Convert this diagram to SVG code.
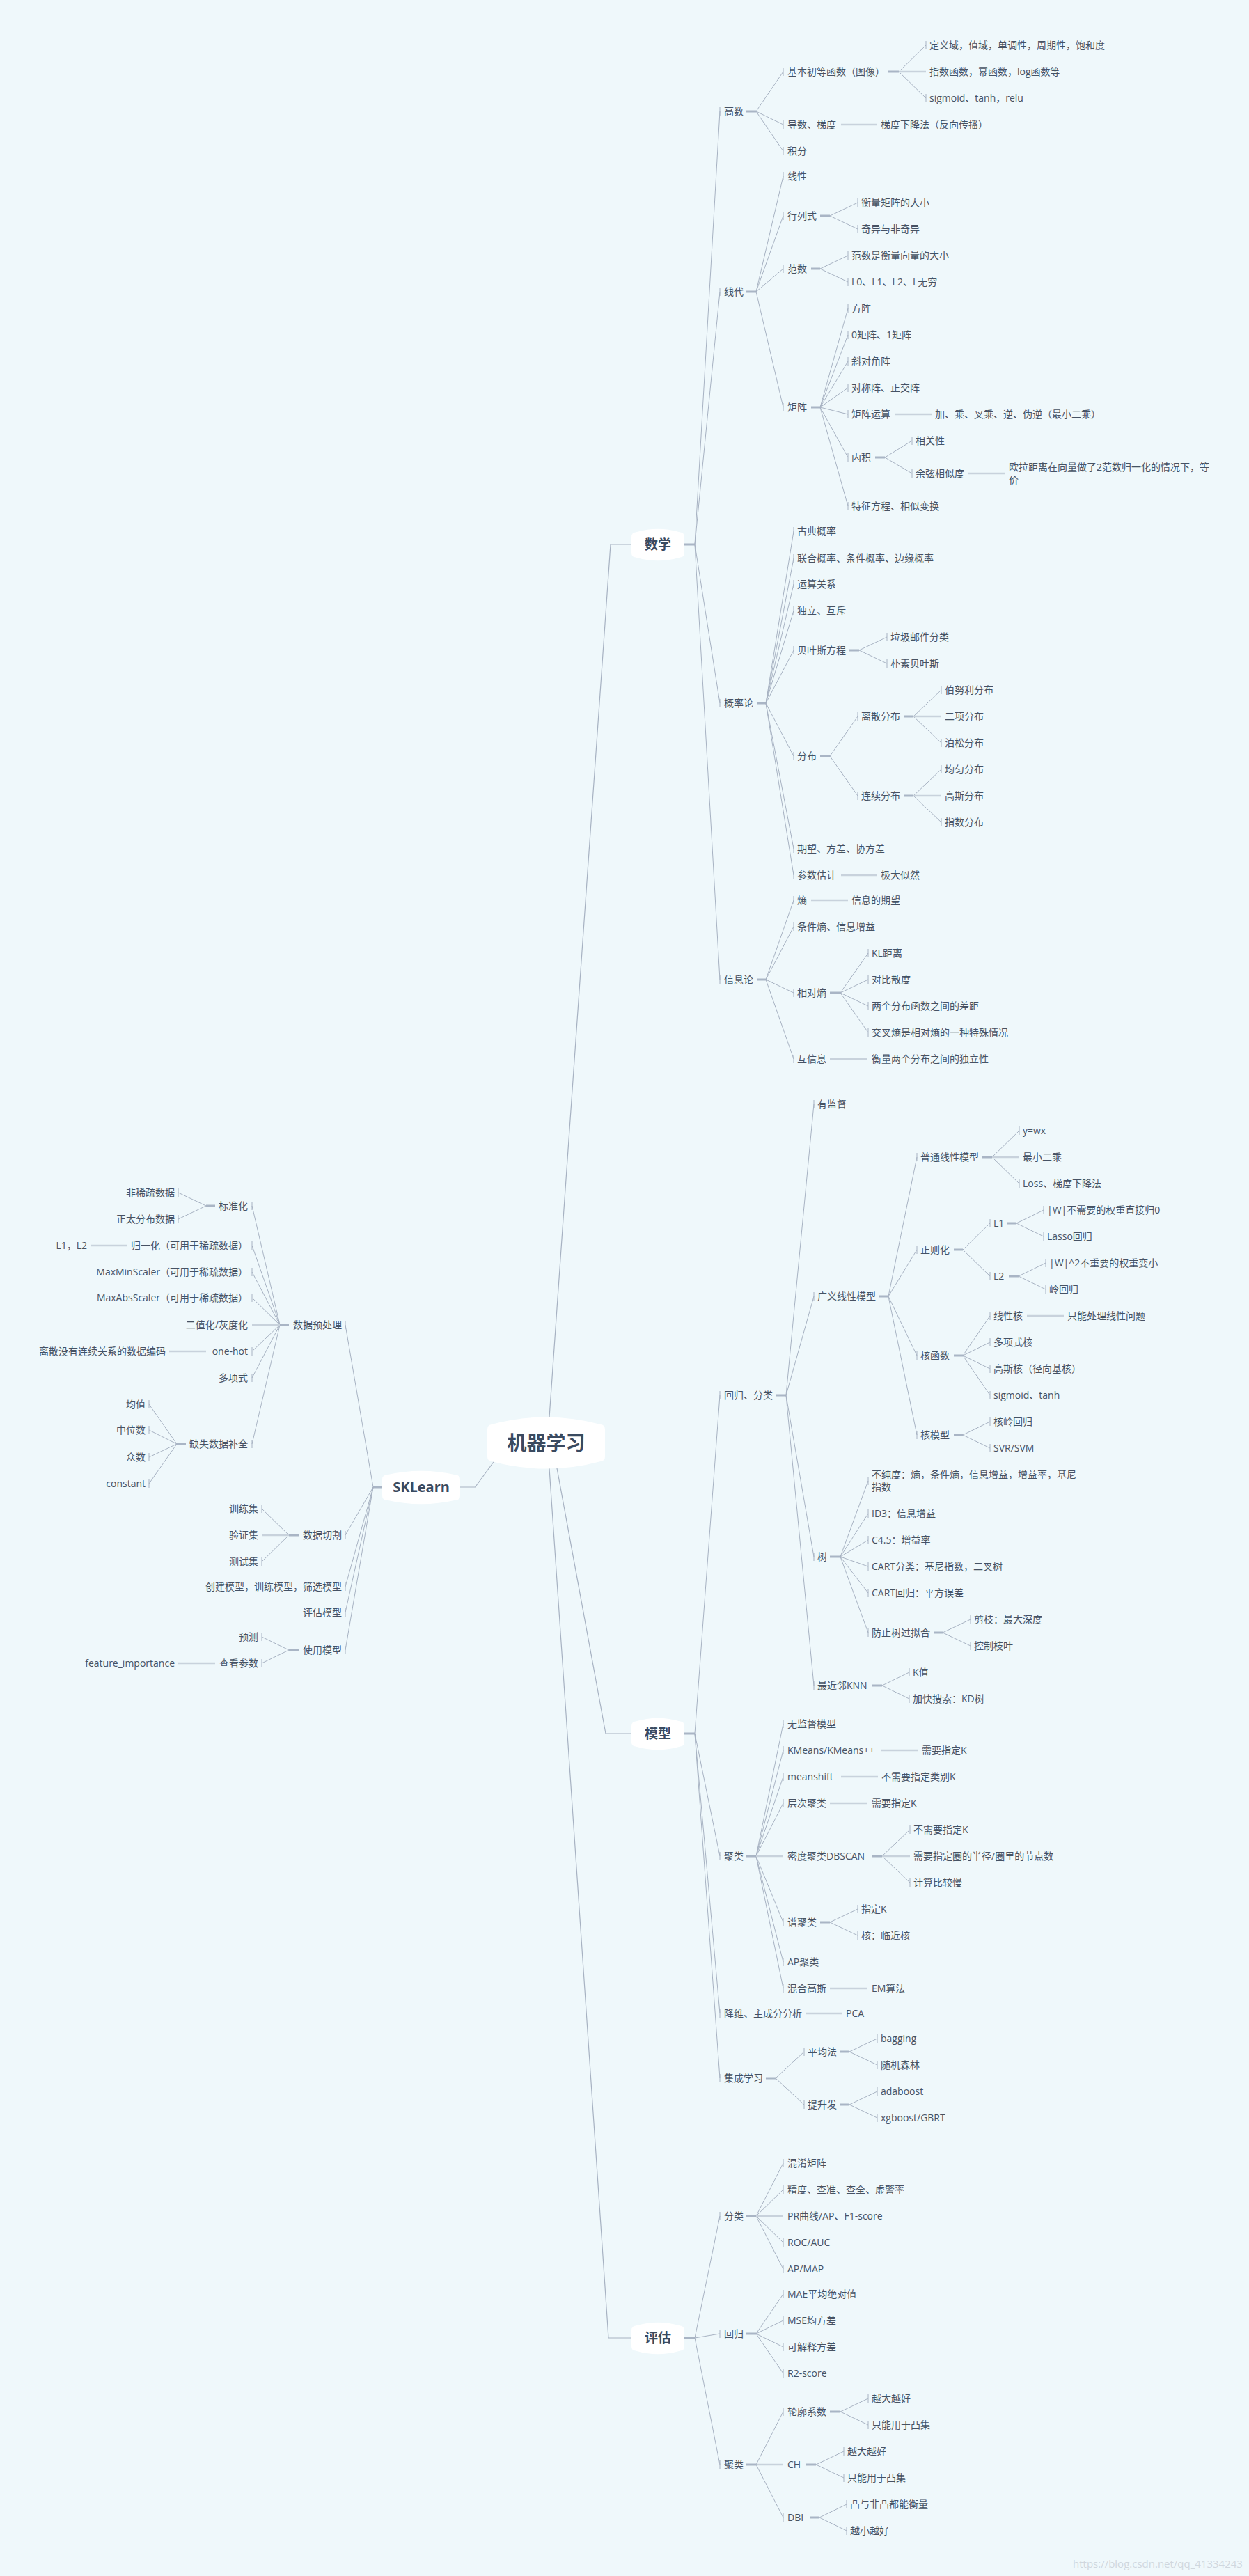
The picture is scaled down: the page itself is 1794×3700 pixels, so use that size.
<svg xmlns="http://www.w3.org/2000/svg" width="1794" height="3700" viewBox="0 0 1794 3700">
<style>
text{font-family:"Open Sans","Noto Sans CJK SC",sans-serif;font-size:14px;fill:#465264}
.e{text-anchor:end}
.b{font-weight:700;fill:#3a4a60;text-anchor:middle}
.box{fill:#ffffff}
.c{fill:none;stroke:#a7b2c2;stroke-width:1}
.h{fill:none;stroke:#c8d2dc;stroke-width:2.5}
.s{fill:none;stroke:#a9b5c5;stroke-width:3}
.m{fill:none;stroke:#a7b2c2;stroke-width:1.2}
.wm{fill:#cfd7de;font-size:15px}
</style>
<rect width="1794" height="3700" fill="#eff8fb"/>
<g id="connectors">
<path class="m" d="M789 2036 L877 782 H907"/>
<path class="m" d="M800 2109 L870 2490 H907"/>
<path class="m" d="M789 2109 L874 3358 H907"/>
<path class="m" d="M709.6 2099 L682.5 2136 H661"/>
<!-- math -->
<path class="s" d="M983 782 H998"/>
<path class="c" d="M998 782 L1034 160 m0 -6 v12 M998 782 L1034 419 m0 -6 v12 M998 782 L1034 1010 m0 -6 v12 M998 782 L1034 1407 m0 -6 v12"/>
<path class="s" d="M1072 160 H1086"/>
<path class="c" d="M1086 160 L1125 103 m0 -6 v12 M1086 160 L1125 179 m0 -6 v12 M1086 160 L1125 217 m0 -6 v12"/>
<path class="s" d="M1276 103 H1291"/>
<path class="c" d="M1291 103 L1330 65 m0 -6 v12 M1291 103 L1330 141 m0 -6 v12"/>
<path class="h" d="M1291 103 H1330 M1208 179 H1259"/>
<path class="s" d="M1072 419 H1086"/>
<path class="c" d="M1086 419 L1125 253 m0 -6 v12 M1086 419 L1125 310 m0 -6 v12 M1086 419 L1125 386 m0 -6 v12 M1086 419 L1125 585 m0 -6 v12"/>
<path class="s" d="M1178 310 H1192 M1165 386 H1178 M1165 585 H1178 M1257 657 H1271"/>
<path class="c" d="M1192 310 L1232 291 m0 -6 v12 M1192 310 L1232 329 m0 -6 v12 M1178 386 L1218 367 m0 -6 v12 M1178 386 L1218 405 m0 -6 v12"/>
<path class="c" d="M1178 585 L1218 443 m0 -6 v12 M1178 585 L1218 481 m0 -6 v12 M1178 585 L1218 519 m0 -6 v12 M1178 585 L1218 557 m0 -6 v12 M1178 585 L1218 595 m0 -6 v12 M1178 585 L1218 657 m0 -6 v12 M1178 585 L1218 727 m0 -6 v12"/>
<path class="h" d="M1285 595 H1338 M1391 680 H1444"/>
<path class="c" d="M1271 657 L1310 633 m0 -6 v12 M1271 657 L1310 680 m0 -6 v12"/>
<path class="s" d="M1087 1010 H1100"/>
<path class="c" d="M1100 1010 L1140 763 m0 -6 v12 M1100 1010 L1140 802 m0 -6 v12 M1100 1010 L1140 839 m0 -6 v12 M1100 1010 L1140 877 m0 -6 v12 M1100 1010 L1140 934 m0 -6 v12 M1100 1010 L1140 1086 m0 -6 v12 M1100 1010 L1140 1219 m0 -6 v12 M1100 1010 L1140 1257 m0 -6 v12"/>
<path class="s" d="M1220 934 H1234 M1178 1086 H1192 M1299 1029 H1312 M1299 1143 H1312"/>
<path class="c" d="M1234 934 L1274 915 m0 -6 v12 M1234 934 L1274 953 m0 -6 v12 M1192 1086 L1232 1029 m0 -6 v12 M1192 1086 L1232 1143 m0 -6 v12"/>
<path class="c" d="M1312 1029 L1352 991 m0 -6 v12 M1312 1029 L1352 1067 m0 -6 v12 M1312 1143 L1352 1105 m0 -6 v12 M1312 1143 L1352 1181 m0 -6 v12"/>
<path class="h" d="M1312 1029 H1352 M1312 1143 H1352 M1208 1257 H1259"/>
<path class="s" d="M1087 1407 H1100 M1192 1426 H1207"/>
<path class="c" d="M1100 1407 L1140 1293 m0 -6 v12 M1100 1407 L1140 1331 m0 -6 v12 M1100 1407 L1140 1426 m0 -6 v12 M1100 1407 L1140 1521 m0 -6 v12"/>
<path class="c" d="M1207 1426 L1247 1369 m0 -6 v12 M1207 1426 L1247 1407 m0 -6 v12 M1207 1426 L1247 1445 m0 -6 v12 M1207 1426 L1247 1483 m0 -6 v12"/>
<path class="h" d="M1165 1293 H1218 M1192 1521 H1246"/>
<!-- model -->
<path class="s" d="M983 2490 H998"/>
<path class="c" d="M998 2490 L1034 2004 m0 -6 v12 M998 2490 L1034 2666 m0 -6 v12 M998 2490 L1034 2892 m0 -6 v12 M998 2490 L1034 2985 m0 -6 v12"/>
<path class="s" d="M1115 2004 H1129"/>
<path class="c" d="M1129 2004 L1169 1586 m0 -6 v12 M1129 2004 L1169 1862 m0 -6 v12 M1129 2004 L1169 2236 m0 -6 v12 M1129 2004 L1169 2421 m0 -6 v12"/>
<path class="s" d="M1262 1862 H1276"/>
<path class="c" d="M1276 1862 L1317 1662 m0 -6 v12 M1276 1862 L1317 1795 m0 -6 v12 M1276 1862 L1317 1947 m0 -6 v12 M1276 1862 L1317 2061 m0 -6 v12"/>
<path class="s" d="M1411 1662 H1425 M1370 1795 H1383 M1446 1757 H1460 M1449 1833 H1463 M1370 1947 H1383 M1370 2061 H1383"/>
<path class="c" d="M1425 1662 L1464 1624 m0 -6 v12 M1425 1662 L1464 1700 m0 -6 v12"/>
<path class="h" d="M1425 1662 H1464 M1475 1890 H1528"/>
<path class="c" d="M1383 1795 L1422 1757 m0 -6 v12 M1383 1795 L1422 1833 m0 -6 v12 M1460 1757 L1499 1738 m0 -6 v12 M1460 1757 L1499 1776 m0 -6 v12 M1463 1833 L1502 1814 m0 -6 v12 M1463 1833 L1502 1852 m0 -6 v12"/>
<path class="c" d="M1383 1947 L1422 1890 m0 -6 v12 M1383 1947 L1422 1928 m0 -6 v12 M1383 1947 L1422 1966 m0 -6 v12 M1383 1947 L1422 2004 m0 -6 v12 M1383 2061 L1422 2042 m0 -6 v12 M1383 2061 L1422 2080 m0 -6 v12"/>
<path class="s" d="M1192 2236 H1207 M1341 2345 H1354 M1253 2421 H1267"/>
<path class="c" d="M1207 2236 L1247 2127 m0 -6 v12 M1207 2236 L1247 2174 m0 -6 v12 M1207 2236 L1247 2212 m0 -6 v12 M1207 2236 L1247 2250 m0 -6 v12 M1207 2236 L1247 2288 m0 -6 v12 M1207 2236 L1247 2345 m0 -6 v12"/>
<path class="c" d="M1354 2345 L1394 2326 m0 -6 v12 M1354 2345 L1394 2364 m0 -6 v12 M1267 2421 L1306 2402 m0 -6 v12 M1267 2421 L1306 2440 m0 -6 v12"/>
<path class="s" d="M1072 2666 H1086"/>
<path class="c" d="M1086 2666 L1125 2476 m0 -6 v12 M1086 2666 L1125 2514 m0 -6 v12 M1086 2666 L1125 2552 m0 -6 v12 M1086 2666 L1125 2590 m0 -6 v12 M1086 2666 L1125 2761 m0 -6 v12 M1086 2666 L1125 2818 m0 -6 v12 M1086 2666 L1125 2856 m0 -6 v12"/>
<path class="h" d="M1086 2666 H1125 M1266 2514 H1319 M1208 2552 H1261 M1192 2590 H1246 M1192 2856 H1246 M1157 2892 H1209"/>
<path class="s" d="M1253 2666 H1267 M1178 2761 H1192"/>
<path class="c" d="M1267 2666 L1307 2628 m0 -6 v12 M1267 2666 L1307 2704 m0 -6 v12 M1192 2761 L1232 2742 m0 -6 v12 M1192 2761 L1232 2780 m0 -6 v12"/>
<path class="h" d="M1267 2666 H1307"/>
<path class="s" d="M1100 2985 H1114 M1207 2947 H1220 M1207 3023 H1220"/>
<path class="c" d="M1114 2985 L1155 2947 m0 -6 v12 M1114 2985 L1155 3023 m0 -6 v12 M1220 2947 L1260 2928 m0 -6 v12 M1220 2947 L1260 2966 m0 -6 v12 M1220 3023 L1260 3004 m0 -6 v12 M1220 3023 L1260 3042 m0 -6 v12"/>
<!-- evaluation -->
<path class="s" d="M983 3358 H998"/>
<path class="c" d="M998 3358 L1034 3183 m0 -6 v12 M998 3358 L1034 3352 m0 -6 v12 M998 3358 L1034 3540 m0 -6 v12"/>
<path class="s" d="M1072 3183 H1086 M1072 3352 H1086 M1072 3540 H1086"/>
<path class="c" d="M1086 3183 L1125 3107 m0 -6 v12 M1086 3183 L1125 3145 m0 -6 v12 M1086 3183 L1125 3221 m0 -6 v12 M1086 3183 L1125 3259 m0 -6 v12"/>
<path class="h" d="M1086 3183 H1125 M1086 3540 H1125"/>
<path class="c" d="M1086 3352 L1125 3295 m0 -6 v12 M1086 3352 L1125 3333 m0 -6 v12 M1086 3352 L1125 3371 m0 -6 v12 M1086 3352 L1125 3409 m0 -6 v12"/>
<path class="c" d="M1086 3540 L1125 3464 m0 -6 v12 M1086 3540 L1125 3616 m0 -6 v12"/>
<path class="s" d="M1192 3464 H1207 M1158 3540 H1172 M1163 3616 H1177"/>
<path class="c" d="M1207 3464 L1247 3445 m0 -6 v12 M1207 3464 L1247 3483 m0 -6 v12 M1172 3540 L1212 3521 m0 -6 v12 M1172 3540 L1212 3559 m0 -6 v12 M1177 3616 L1216 3597 m0 -6 v12 M1177 3616 L1216 3635 m0 -6 v12"/>
<!-- sklearn -->
<path class="s" d="M549 2136 H536"/>
<path class="c" d="M536 2136 L496 1903 m0 -6 v12 M536 2136 L496 2205 m0 -6 v12 M536 2136 L496 2279 m0 -6 v12 M536 2136 L496 2316 m0 -6 v12 M536 2136 L496 2370 m0 -6 v12"/>
<path class="s" d="M415 1903 H402"/>
<path class="c" d="M402 1903 L362 1732 m0 -6 v12 M402 1903 L362 1789 m0 -6 v12 M402 1903 L362 1827 m0 -6 v12 M402 1903 L362 1864 m0 -6 v12 M402 1903 L362 1941 m0 -6 v12 M402 1903 L362 1979 m0 -6 v12 M402 1903 L362 2074 m0 -6 v12"/>
<path class="h" d="M402 1903 H362 M183 1789 H130 M296 1941 H243 M309 2389 H256"/>
<path class="s" d="M309 1732 H296 M267 2074 H254 M429 2205 H415 M429 2370 H415"/>
<path class="c" d="M296 1732 L256 1713 m0 -6 v12 M296 1732 L256 1751 m0 -6 v12"/>
<path class="c" d="M254 2074 L214 2017 m0 -6 v12 M254 2074 L214 2054 m0 -6 v12 M254 2074 L214 2093 m0 -6 v12 M254 2074 L214 2131 m0 -6 v12"/>
<path class="c" d="M415 2205 L376 2167 m0 -6 v12 M415 2205 L376 2243 m0 -6 v12 M415 2370 L376 2351 m0 -6 v12 M415 2370 L376 2389 m0 -6 v12"/>
<path class="h" d="M415 2205 H376"/>
</g>
<!-- central nodes -->
<g id="root"><path class="box" d="M700,2053 Q700,2047 706,2046 Q784.5,2025 863,2046 Q869,2047 869,2053 L869,2092 Q869,2098 863,2099 Q784.5,2120 706,2099 Q700,2098 700,2092 Z"/><text class="b" x="784.5" y="2083" style="font-size:28px">机器学习</text></g>
<g id="sklearn"><path class="box" d="M549,2125 Q549,2119 555,2118.5 Q605,2107 655,2118.5 Q661,2119 661,2125 L661,2148 Q661,2154 655,2154.5 Q605,2166 555,2154.5 Q549,2154 549,2148 Z"/><text class="b" x="605" y="2143" style="font-size:20px">SKLearn</text></g>
<g id="math"><path class="box" d="M907,771 Q907,765 913,764.5 Q945,755 977,764.5 Q983,765 983,771 L983,794 Q983,800 977,800.5 Q945,810 913,800.5 Q907,800 907,794 Z"/><text class="b" x="945" y="789" style="font-size:19px">数学</text></g>
<g id="model"><path class="box" d="M907,2479 Q907,2473 913,2472.5 Q945,2463 977,2472.5 Q983,2473 983,2479 L983,2502 Q983,2508 977,2508.5 Q945,2518 913,2508.5 Q907,2508 907,2502 Z"/><text class="b" x="945" y="2497" style="font-size:19px">模型</text></g>
<g id="eval"><path class="box" d="M907,3347 Q907,3341 913,3340.5 Q945,3331 977,3340.5 Q983,3341 983,3347 L983,3370 Q983,3376 977,3376.5 Q945,3386 913,3376.5 Q907,3376 907,3370 Z"/><text class="b" x="945" y="3365" style="font-size:19px">评估</text></g>
<!-- math subtree -->
<g id="gaoshu"><text x="1040" y="165">高数</text></g>
<g id="jiben"><text x="1131" y="108">基本初等函数（图像）</text></g>
<g id="dingyi"><text x="1335" y="70">定义域，值域，单调性，周期性，饱和度</text></g>
<g id="zhishu"><text x="1335" y="108">指数函数，幂函数，log函数等</text></g>
<g id="sigmoid1"><text x="1335" y="146">sigmoid、tanh，relu</text></g>
<g id="daoshu"><text x="1131" y="184">导数、梯度</text></g>
<g id="tidu"><text x="1265" y="184">梯度下降法（反向传播）</text></g>
<g id="jifen"><text x="1131" y="222">积分</text></g>
<g id="xiandai"><text x="1040" y="424">线代</text></g>
<g id="xianxing"><text x="1131" y="258">线性</text></g>
<g id="hanglie"><text x="1131" y="315">行列式</text></g>
<g id="hengliang"><text x="1237" y="296">衡量矩阵的大小</text></g>
<g id="qiyi"><text x="1237" y="334">奇异与非奇异</text></g>
<g id="fanshu"><text x="1131" y="391">范数</text></g>
<g id="fanshu1"><text x="1223" y="372">范数是衡量向量的大小</text></g>
<g id="fanshu2"><text x="1223" y="410">L0、L1、L2、L无穷</text></g>
<g id="juzhen"><text x="1131" y="590">矩阵</text></g>
<g id="fangzhen"><text x="1223" y="448">方阵</text></g>
<g id="ling"><text x="1223" y="486">0矩阵、1矩阵</text></g>
<g id="xiedui"><text x="1223" y="524">斜对角阵</text></g>
<g id="duichen"><text x="1223" y="562">对称阵、正交阵</text></g>
<g id="yunsuan"><text x="1223" y="600">矩阵运算</text></g>
<g id="jia"><text x="1343" y="600">加、乘、叉乘、逆、伪逆（最小二乘）</text></g>
<g id="neiji"><text x="1223" y="662">内积</text></g>
<g id="xiangguan"><text x="1315" y="638">相关性</text></g>
<g id="yuxian"><text x="1315" y="685">余弦相似度</text></g>
<g id="oula"><text x="1449" y="676">欧拉距离在向量做了2范数归一化的情况下，等</text><text x="1449" y="694">价</text></g>
<g id="tezheng"><text x="1223" y="732">特征方程、相似变换</text></g>
<g id="gailv"><text x="1040" y="1015">概率论</text></g>
<g id="gudian"><text x="1145" y="768">古典概率</text></g>
<g id="lianhe"><text x="1145" y="807">联合概率、条件概率、边缘概率</text></g>
<g id="yunsuanguanxi"><text x="1145" y="844">运算关系</text></g>
<g id="duli"><text x="1145" y="882">独立、互斥</text></g>
<g id="beiyesi"><text x="1145" y="939">贝叶斯方程</text></g>
<g id="laji"><text x="1279" y="920">垃圾邮件分类</text></g>
<g id="pusu"><text x="1279" y="958">朴素贝叶斯</text></g>
<g id="fenbu"><text x="1145" y="1091">分布</text></g>
<g id="lisan"><text x="1237" y="1034">离散分布</text></g>
<g id="bonuli"><text x="1357" y="996">伯努利分布</text></g>
<g id="erxiang"><text x="1357" y="1034">二项分布</text></g>
<g id="bosong"><text x="1357" y="1072">泊松分布</text></g>
<g id="lianxu"><text x="1237" y="1148">连续分布</text></g>
<g id="junyun"><text x="1357" y="1110">均匀分布</text></g>
<g id="gaosi"><text x="1357" y="1148">高斯分布</text></g>
<g id="zhishufenbu"><text x="1357" y="1186">指数分布</text></g>
<g id="qiwang"><text x="1145" y="1224">期望、方差、协方差</text></g>
<g id="canshu"><text x="1145" y="1262">参数估计</text></g>
<g id="jida"><text x="1265" y="1262">极大似然</text></g>
<g id="xinxi"><text x="1040" y="1412">信息论</text></g>
<g id="shang"><text x="1145" y="1298">熵</text></g>
<g id="xinxiqiwang"><text x="1223" y="1298">信息的期望</text></g>
<g id="tiaojianshang"><text x="1145" y="1336">条件熵、信息增益</text></g>
<g id="xiangduishang"><text x="1145" y="1431">相对熵</text></g>
<g id="kl"><text x="1252" y="1374">KL距离</text></g>
<g id="duibi"><text x="1252" y="1412">对比散度</text></g>
<g id="liangge"><text x="1252" y="1450">两个分布函数之间的差距</text></g>
<g id="jiaocha"><text x="1252" y="1488">交叉熵是相对熵的一种特殊情况</text></g>
<g id="huxinxi"><text x="1145" y="1526">互信息</text></g>
<g id="hengliang2"><text x="1252" y="1526">衡量两个分布之间的独立性</text></g>
<!-- model subtree -->
<g id="huigui"><text x="1040" y="2009">回归、分类</text></g>
<g id="youjiandu"><text x="1174" y="1591">有监督</text></g>
<g id="guangyi"><text x="1174" y="1867">广义线性模型</text></g>
<g id="putong"><text x="1322" y="1667">普通线性模型</text></g>
<g id="ywx"><text x="1469" y="1629">y=wx</text></g>
<g id="zuixiao"><text x="1469" y="1667">最小二乘</text></g>
<g id="loss"><text x="1469" y="1705">Loss、梯度下降法</text></g>
<g id="zhengze"><text x="1322" y="1800">正则化</text></g>
<g id="l1"><text x="1427" y="1762">L1</text></g>
<g id="l1a"><text x="1504" y="1743">|W|不需要的权重直接归0</text></g>
<g id="l1b"><text x="1504" y="1781">Lasso回归</text></g>
<g id="l2"><text x="1427" y="1838">L2</text></g>
<g id="l2a"><text x="1507" y="1819">|W|^2不重要的权重变小</text></g>
<g id="l2b"><text x="1507" y="1857">岭回归</text></g>
<g id="hehanshu"><text x="1322" y="1952">核函数</text></g>
<g id="xianxinghe"><text x="1427" y="1895">线性核</text></g>
<g id="zhineng"><text x="1533" y="1895">只能处理线性问题</text></g>
<g id="duoxiangshihe"><text x="1427" y="1933">多项式核</text></g>
<g id="gaosihe"><text x="1427" y="1971">高斯核（径向基核）</text></g>
<g id="sigmoid2"><text x="1427" y="2009">sigmoid、tanh</text></g>
<g id="hemoxing"><text x="1322" y="2066">核模型</text></g>
<g id="heling"><text x="1427" y="2047">核岭回归</text></g>
<g id="svr"><text x="1427" y="2085">SVR/SVM</text></g>
<g id="shu"><text x="1174" y="2241">树</text></g>
<g id="buchun"><text x="1252" y="2123">不纯度：熵，条件熵，信息增益，增益率，基尼</text><text x="1252" y="2141">指数</text></g>
<g id="id3"><text x="1252" y="2179">ID3：信息增益</text></g>
<g id="c45"><text x="1252" y="2217">C4.5：增益率</text></g>
<g id="cartc"><text x="1252" y="2255">CART分类：基尼指数，二叉树</text></g>
<g id="cartr"><text x="1252" y="2293">CART回归：平方误差</text></g>
<g id="fangzhi"><text x="1252" y="2350">防止树过拟合</text></g>
<g id="jianzhi"><text x="1399" y="2331">剪枝：最大深度</text></g>
<g id="kongzhi"><text x="1399" y="2369">控制枝叶</text></g>
<g id="knn"><text x="1174" y="2426">最近邻KNN</text></g>
<g id="kzhi"><text x="1311" y="2407">K值</text></g>
<g id="kd"><text x="1311" y="2445">加快搜索：KD树</text></g>
<g id="julei"><text x="1040" y="2671">聚类</text></g>
<g id="wujiandu"><text x="1131" y="2481">无监督模型</text></g>
<g id="kmeans"><text x="1131" y="2519">KMeans/KMeans++</text></g>
<g id="kmeansk"><text x="1324" y="2519">需要指定K</text></g>
<g id="meanshift"><text x="1131" y="2557">meanshift</text></g>
<g id="meanshiftk"><text x="1266" y="2557">不需要指定类别K</text></g>
<g id="cengci"><text x="1131" y="2595">层次聚类</text></g>
<g id="cengcik"><text x="1252" y="2595">需要指定K</text></g>
<g id="dbscan"><text x="1131" y="2671">密度聚类DBSCAN</text></g>
<g id="dbscan1"><text x="1312" y="2633">不需要指定K</text></g>
<g id="dbscan2"><text x="1312" y="2671">需要指定圈的半径/圈里的节点数</text></g>
<g id="dbscan3"><text x="1312" y="2709">计算比较慢</text></g>
<g id="pujulei"><text x="1131" y="2766">谱聚类</text></g>
<g id="zhidingk"><text x="1237" y="2747">指定K</text></g>
<g id="linjinhe"><text x="1237" y="2785">核：临近核</text></g>
<g id="ap"><text x="1131" y="2823">AP聚类</text></g>
<g id="hunhe"><text x="1131" y="2861">混合高斯</text></g>
<g id="em"><text x="1252" y="2861">EM算法</text></g>
<g id="jiangwei"><text x="1040" y="2897">降维、主成分分析</text></g>
<g id="pca"><text x="1215" y="2897">PCA</text></g>
<g id="jicheng"><text x="1040" y="2990">集成学习</text></g>
<g id="pingjun"><text x="1160" y="2952">平均法</text></g>
<g id="bagging"><text x="1265" y="2933">bagging</text></g>
<g id="suiji"><text x="1265" y="2971">随机森林</text></g>
<g id="tisheng"><text x="1160" y="3028">提升发</text></g>
<g id="adaboost"><text x="1265" y="3009">adaboost</text></g>
<g id="xgboost"><text x="1265" y="3047">xgboost/GBRT</text></g>
<!-- evaluation subtree -->
<g id="fenlei"><text x="1040" y="3188">分类</text></g>
<g id="hunxiao"><text x="1131" y="3112">混淆矩阵</text></g>
<g id="jingdu"><text x="1131" y="3150">精度、查准、查全、虚警率</text></g>
<g id="pr"><text x="1131" y="3188">PR曲线/AP、F1-score</text></g>
<g id="roc"><text x="1131" y="3226">ROC/AUC</text></g>
<g id="apmap"><text x="1131" y="3264">AP/MAP</text></g>
<g id="huigui2"><text x="1040" y="3357">回归</text></g>
<g id="mae"><text x="1131" y="3300">MAE平均绝对值</text></g>
<g id="mse"><text x="1131" y="3338">MSE均方差</text></g>
<g id="kejieshi"><text x="1131" y="3376">可解释方差</text></g>
<g id="r2"><text x="1131" y="3414">R2-score</text></g>
<g id="julei2"><text x="1040" y="3545">聚类</text></g>
<g id="lunkuo"><text x="1131" y="3469">轮廓系数</text></g>
<g id="lunkuo1"><text x="1252" y="3450">越大越好</text></g>
<g id="lunkuo2"><text x="1252" y="3488">只能用于凸集</text></g>
<g id="ch"><text x="1131" y="3545">CH</text></g>
<g id="ch1"><text x="1217" y="3526">越大越好</text></g>
<g id="ch2"><text x="1217" y="3564">只能用于凸集</text></g>
<g id="dbi"><text x="1131" y="3621">DBI</text></g>
<g id="dbi1"><text x="1221" y="3602">凸与非凸都能衡量</text></g>
<g id="dbi2"><text x="1221" y="3640">越小越好</text></g>
<!-- sklearn subtree -->
<g id="yuchuli"><text class="e" x="491" y="1908">数据预处理</text></g>
<g id="biaozhun"><text class="e" x="356" y="1737">标准化</text></g>
<g id="feixishu"><text class="e" x="251" y="1718">非稀疏数据</text></g>
<g id="zhengtai"><text class="e" x="251" y="1756">正太分布数据</text></g>
<g id="guiyi"><text class="e" x="356" y="1794">归一化（可用于稀疏数据）</text></g>
<g id="l1l2"><text class="e" x="125" y="1794">L1，L2</text></g>
<g id="maxmin"><text class="e" x="356" y="1832">MaxMinScaler（可用于稀疏数据）</text></g>
<g id="maxabs"><text class="e" x="356" y="1869">MaxAbsScaler（可用于稀疏数据）</text></g>
<g id="erzhi"><text class="e" x="356" y="1908">二值化/灰度化</text></g>
<g id="onehot"><text class="e" x="356" y="1946">one-hot</text></g>
<g id="lisanbianma"><text class="e" x="238" y="1946">离散没有连续关系的数据编码</text></g>
<g id="duoxiangshi"><text class="e" x="356" y="1984">多项式</text></g>
<g id="queshi"><text class="e" x="356" y="2079">缺失数据补全</text></g>
<g id="junzhi"><text class="e" x="209" y="2022">均值</text></g>
<g id="zhongwei"><text class="e" x="209" y="2059">中位数</text></g>
<g id="zhongshu"><text class="e" x="209" y="2098">众数</text></g>
<g id="constant"><text class="e" x="209" y="2136">constant</text></g>
<g id="qiege"><text class="e" x="491" y="2210">数据切割</text></g>
<g id="xunlian"><text class="e" x="371" y="2172">训练集</text></g>
<g id="yanzheng"><text class="e" x="371" y="2210">验证集</text></g>
<g id="ceshi"><text class="e" x="371" y="2248">测试集</text></g>
<g id="chuangjian"><text class="e" x="491" y="2284">创建模型，训练模型，筛选模型</text></g>
<g id="pinggu"><text class="e" x="491" y="2321">评估模型</text></g>
<g id="shiyong"><text class="e" x="491" y="2375">使用模型</text></g>
<g id="yuce"><text class="e" x="371" y="2356">预测</text></g>
<g id="chakan"><text class="e" x="371" y="2394">查看参数</text></g>
<g id="feature"><text class="e" x="251" y="2394">feature_importance</text></g>
<text class="wm" x="1541" y="3688">https://blog.csdn.net/qq_41334243</text>
</svg>
